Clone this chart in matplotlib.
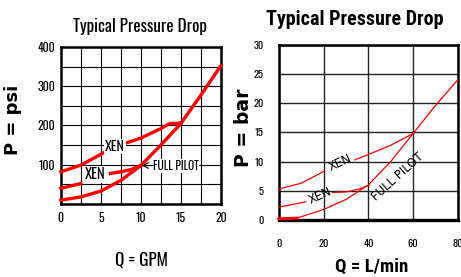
import matplotlib
matplotlib.use('Agg')
import matplotlib.pyplot as plt

# Left chart: pressure drop in psi against flow in GPM
gpm_pilot = [0, 2.5, 5, 7.5, 10, 12.5, 15, 17.5, 20]
psi_pilot = [10, 18, 33, 60, 98, 150, 205, 277, 352]
gpm_xen_hi_a = [0, 2.5, 5.3]
psi_xen_hi_a = [82, 99, 130]
gpm_xen_hi_b = [8.1, 10, 12.5, 13.6, 14.5, 15]
psi_xen_hi_b = [155, 168, 192, 205, 205, 207]
gpm_xen_lo_a = [0, 2.5]
psi_xen_lo_a = [40, 52]
gpm_xen_lo_b = [6.2, 7.5, 8.8, 10]
psi_xen_lo_b = [78, 82, 88, 98]

# Right chart: pressure drop in bar against flow in L/min
lpm_pilot = [0, 8, 20, 30, 40, 50, 60, 70, 80]
bar_pilot = [0.2, 0.3, 1.8, 3.5, 6.0, 10.0, 14.8, 19.6, 24.0]
lpm_xen_hi_a = [0, 10, 20.5]
bar_xen_hi_a = [5.3, 6.3, 8.4]
lpm_xen_hi_b = [34, 40, 50, 60]
bar_xen_hi_b = [10.3, 11.2, 12.8, 14.8]
lpm_xen_lo_a = [0, 12]
bar_xen_lo_a = [2.2, 3.1]
lpm_xen_lo_b = [24, 30, 36, 40.5]
bar_xen_lo_b = [4.7, 4.8, 5.3, 6.0]

NARROW = ['Oswald', 'DejaVu Sans']
COND = ['Roboto Condensed', 'DejaVu Sans']
WIDE = ['DejaVu Sans']
RED = '#ff0000'

plt.rcParams['font.family'] = NARROW

fig = plt.figure(figsize=(4.61, 2.77), dpi=100)
renderer = fig.canvas.get_renderer()


def fit(t, target, use_height=False):
    # scale a text so that its box is target pixels long
    bb = t.get_window_extent(renderer)
    cur = bb.height if use_height else bb.width
    t.set_fontsize(t.get_fontsize() * target / cur)


# ---- left chart
ax1 = fig.add_axes([0.132, 0.2635, 0.347, 0.567])
ax1.set_xlim(0, 20)
ax1.set_ylim(0, 400)
ax1.set_xticks([x * 2.5 for x in range(9)], minor=True)
ax1.set_yticks(range(0, 401, 50), minor=True)
ax1.set_xticks([0, 5, 10, 15, 20])
ax1.set_yticks([100, 200, 300, 400])
ax1.grid(True, which='both', color='black', lw=0.8)
ax1.tick_params(which='both', length=0, labelsize=8.5)
ax1.tick_params(axis='x', pad=6)
ax1.tick_params(axis='y', pad=4)
for s in ax1.spines.values():
    s.set_linewidth(1.8)

for xs, ys in [(gpm_pilot, psi_pilot), (gpm_xen_hi_a, psi_xen_hi_a), (gpm_xen_hi_b, psi_xen_hi_b),
               (gpm_xen_lo_a, psi_xen_lo_a), (gpm_xen_lo_b, psi_xen_lo_b)]:
    ax1.plot(xs, ys, color=RED, lw=2.4, zorder=3, clip_on=False)

t = ax1.text(6.75, 146, 'XEN', fontsize=8, ha='center', va='center', zorder=4,
             bbox=dict(fc='white', ec='none', pad=0.5))
fit(t, 20)
t = ax1.text(4.3, 76, 'XEN', fontsize=8, ha='center', va='center', zorder=4,
             bbox=dict(fc='white', ec='none', pad=0.5))
fit(t, 21)
t = ax1.text(11.5, 97, 'FULL PILOT', fontsize=8, ha='left', va='center', zorder=4,
             bbox=dict(fc='white', ec='none', pad=0.5))
fit(t, 46)
ax1.annotate('', xy=(10.1, 98), xytext=(11.5, 98), zorder=4,
             arrowprops=dict(arrowstyle='->', color='black', lw=0.8, shrinkA=0, shrinkB=0))

t = fig.text(0.304, 0.906, 'Typical Pressure Drop', fontsize=11, ha='center', va='center')
fit(t, 134)
t = fig.text(0.028, 0.567, 'P = psi', fontsize=12, fontweight='bold', family=WIDE,
             rotation=90, ha='center', va='center')
fit(t, 70, use_height=True)
t = fig.text(0.306, 0.061, 'Q = GPM', fontsize=10, ha='center', va='center')
fit(t, 53)

# ---- right chart
ax2 = fig.add_axes([0.605, 0.206, 0.388, 0.632])
ax2.set_xlim(0, 80)
ax2.set_ylim(0, 30)
ax2.set_xticks([0, 20, 40, 60, 80])
ax2.set_yticks(range(0, 31, 5))
ax2.grid(True, color='#222222', lw=1.0)
ax2.tick_params(length=0, labelsize=7.5)
ax2.tick_params(axis='x', pad=14)
ax2.tick_params(axis='y', pad=11)
for s in ax2.spines.values():
    s.set_linewidth(1.8)
ax2.spines['bottom'].set_linewidth(2.4)

for xs, ys in [(lpm_pilot, bar_pilot), (lpm_xen_hi_a, bar_xen_hi_a), (lpm_xen_hi_b, bar_xen_hi_b),
               (lpm_xen_lo_a, bar_xen_lo_a), (lpm_xen_lo_b, bar_xen_lo_b)]:
    ax2.plot(xs, ys, color=RED, lw=0.9, zorder=3, clip_on=False)
ax2.plot(lpm_pilot[:2], bar_pilot[:2], color=RED, lw=2.2, zorder=3, clip_on=False)

ax2.text(27.3, 9.8, 'XEN', fontsize=8.5, family=WIDE, rotation=25, ha='center', va='center', zorder=4)
ax2.text(18.3, 4.1, 'XEN', fontsize=8.5, family=WIDE, rotation=25, ha='center', va='center', zorder=4)
ax2.text(53, 7.4, 'FULL PILOT', fontsize=8.5, family=WIDE, rotation=42, ha='center', va='center', zorder=4)

t = fig.text(0.77, 0.928, 'Typical Pressure Drop', fontsize=13, fontweight='bold', family=COND,
             ha='center', va='center')
fit(t, 176)
t = fig.text(0.528, 0.538, 'P = bar', fontsize=13, fontweight='bold', family=WIDE,
             rotation=90, ha='center', va='center')
fit(t, 78, use_height=True)
t = fig.text(0.807, 0.036, 'Q = L/min', fontsize=12, fontweight='bold', family=COND, ha='center', va='center')
fit(t, 73)

fig.savefig('out.png', dpi=100)
